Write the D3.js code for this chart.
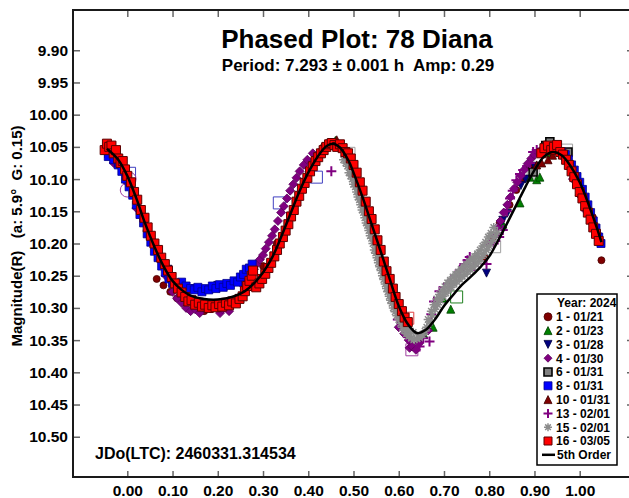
<!DOCTYPE html>
<html>
<head>
<meta charset="UTF-8">
<title>Phased Plot: 78 Diana</title>
<script src="https://cdnjs.cloudflare.com/ajax/libs/d3/7.8.5/d3.min.js"></script>
<style>
body { margin: 0; background: #fff; }
svg { display: block; font-family: "Liberation Sans", Arial, sans-serif; font-weight: bold; }
</style>
</head>
<body>
<script>
// ---- data: [phase, magnitude] ----
var seriesNames = ["1 - 01/21", "2 - 01/23", "3 - 01/28", "4 - 01/30", "6 - 01/31",
                   "8 - 01/31", "10 - 01/31", "13 - 02/01", "15 - 02/01", "16 - 03/05"];

var s1 = [[0.065,10.255],[0.08,10.265],[0.095,10.275],[0.11,10.285],[0.125,10.292],[0.16,10.298],
  [0.17,10.305],[0.185,10.302],[0.3,10.235],[0.33,10.2],[0.79,10.222],[0.808,10.19],[0.823,10.168],
  [0.845,10.14],[0.86,10.117],[0.875,10.1],[0.89,10.081],[1.029,10.159],[1.048,10.226]];

var s2 = [[0.46,10.04],[0.655,10.34],[0.676,10.33],[0.698,10.285],[0.715,10.302],[0.83,10.17],
  [0.868,10.137],[0.89,10.097],[0.905,10.101],[0.912,10.097],[0.935,10.06]];

var s3 = [[0.005,10.11],[0.035,10.16],[0.06,10.205],[0.09,10.24],[0.15,10.27],[0.2,10.265],
  [0.794,10.246],[0.83,10.164],[0.84,10.153],[0.87,10.11],[0.88,10.1],[0.9,10.08],[0.96,10.065],
  [1.02,10.16],[1.04,10.19]];

var s4 = [[-0.03,10.075],[0.0,10.105],[0.02,10.145],[0.05,10.19],[0.07,10.225],[0.085,10.25],
  [0.1,10.275],[0.11,10.285],[0.12,10.292],[0.13,10.3],[0.14,10.305],[0.15,10.302],[0.16,10.308],
  [0.17,10.3],[0.205,10.308],[0.21,10.302],[0.225,10.305],
  [0.232,10.262],[0.243,10.258],[0.252,10.262],[0.258,10.255],[0.266,10.25],[0.273,10.248],
  [0.28,10.24],[0.286,10.232],[0.293,10.225],[0.3,10.218],[0.306,10.208],[0.313,10.198],
  [0.32,10.188],[0.326,10.178],[0.333,10.165],[0.34,10.152],[0.346,10.142],[0.353,10.13],
  [0.36,10.118],[0.367,10.108],[0.374,10.098],[0.381,10.088],[0.39,10.078],[0.398,10.07],[0.41,10.06],
  [0.6,10.33],[0.612,10.34],[0.622,10.35],[0.624,10.362],[0.63,10.36],[0.638,10.365],[0.645,10.355],
  [0.65,10.345],[0.665,10.335],
  [0.8,10.2],[0.81,10.188],[0.818,10.175],[0.825,10.165],[0.832,10.152],[0.84,10.14],[0.847,10.128],
  [0.855,10.115],[0.862,10.105],[0.87,10.095],[0.878,10.085],[0.885,10.076],[0.893,10.068],
  [0.9,10.062],[0.908,10.058],[0.915,10.055],[0.922,10.052],[0.985,10.1],[1.0,10.125],[1.015,10.15]];

var s6 = [[-0.04,10.06],[-0.03,10.058],[-0.028,10.068],[-0.018,10.075],[0.897,10.089],
  [0.925,10.048],[0.934,10.042],[0.974,10.058]];

var s8 = [[-0.042,10.065],[-0.03,10.07],[-0.02,10.078],[-0.012,10.088],[-0.004,10.1],[0.004,10.112],
  [0.012,10.125],[0.02,10.14],[0.028,10.155],[0.036,10.168],[0.044,10.185],[0.052,10.198],
  [0.06,10.212],[0.068,10.222],[0.076,10.235],[0.084,10.245],[0.092,10.255],[0.1,10.262],
  [0.12,10.26],[0.13,10.266],[0.14,10.27],[0.148,10.272],[0.156,10.268],[0.165,10.275],[0.173,10.27],
  [0.18,10.272],[0.188,10.266],[0.196,10.27],[0.204,10.264],[0.212,10.268],[0.22,10.262],
  [0.228,10.265],[0.236,10.258],[0.244,10.26],[0.25,10.252],[0.257,10.248],[0.263,10.24],
  [0.27,10.238],[0.276,10.232],
  [0.96,10.058],[0.968,10.062],[0.975,10.07],[0.982,10.078],[0.988,10.086],[0.994,10.096],
  [1.0,10.105],[1.006,10.116],[1.012,10.128],[1.018,10.14],[1.024,10.152],[1.03,10.165],
  [1.036,10.176],[1.042,10.19],[1.047,10.2]];

var s10 = [[0.43,10.05],[0.44,10.045],[0.463,10.039],[0.905,10.078],[0.916,10.075],[0.93,10.07],
  [0.94,10.063]];

var s13 = [[0.451,10.088],[0.598,10.318],[0.62,10.345],[0.646,10.36],[0.654,10.347],[0.668,10.352],
  [0.672,10.31],[0.678,10.29],[0.69,10.274],[0.7,10.268],[0.712,10.262],[0.725,10.25],[0.735,10.241],
  [0.745,10.232],[0.752,10.226],[0.757,10.221],[0.766,10.235],[0.794,10.232],[0.81,10.2],
  [0.822,10.19],[0.83,10.179],[0.839,10.15],[0.846,10.13],[0.852,10.118],[0.86,10.102],
  [0.868,10.092],[0.875,10.086],[0.89,10.075],[0.897,10.058],[0.905,10.055]];

var s15 = [[0.478,10.07],[0.483,10.075],[0.487,10.08],[0.49,10.09],[0.494,10.095],[0.497,10.1],
  [0.5,10.108],[0.504,10.112],[0.507,10.12],[0.51,10.128],[0.513,10.132],[0.516,10.14],[0.519,10.148],
  [0.522,10.152],[0.525,10.16],[0.528,10.168],[0.531,10.172],[0.534,10.18],[0.537,10.188],
  [0.54,10.192],[0.543,10.2],[0.546,10.21],[0.549,10.215],[0.552,10.222],[0.555,10.23],[0.558,10.236],
  [0.561,10.242],[0.564,10.25],[0.567,10.256],[0.57,10.263],[0.573,10.27],[0.576,10.275],
  [0.579,10.282],[0.582,10.288],[0.585,10.293],[0.588,10.3],[0.592,10.306],[0.596,10.312],
  [0.6,10.318],[0.604,10.324],[0.608,10.33],[0.612,10.335],[0.617,10.34],[0.622,10.344],
  [0.628,10.347],[0.634,10.349],[0.64,10.348],[0.646,10.346],[0.652,10.342],[0.658,10.336],
  [0.485,10.065],[0.492,10.082],[0.498,10.092],[0.505,10.102],[0.512,10.118],[0.518,10.13],
  [0.524,10.145],[0.53,10.158],[0.536,10.17],[0.542,10.182],[0.548,10.198],[0.554,10.21],
  [0.56,10.222],[0.566,10.238],[0.572,10.25],[0.578,10.262],[0.584,10.275],[0.59,10.285],
  [0.596,10.298],[0.602,10.308],[0.608,10.318],[0.614,10.326],[0.62,10.332],[0.626,10.336],
  [0.632,10.338],
  [0.662,10.33],[0.668,10.322],[0.674,10.312],[0.68,10.302],[0.686,10.295],[0.692,10.288],
  [0.698,10.282],[0.704,10.277],[0.71,10.272],[0.716,10.268],[0.722,10.263],[0.728,10.259],
  [0.734,10.255],[0.74,10.251],[0.746,10.248],[0.752,10.244],[0.758,10.24],[0.764,10.236],
  [0.77,10.232],[0.776,10.228],[0.782,10.223],[0.788,10.217],[0.794,10.21],[0.8,10.204],
  [0.806,10.197],[0.812,10.19],[0.818,10.183],
  [0.665,10.318],[0.672,10.305],[0.678,10.295],[0.684,10.286],[0.69,10.279],[0.696,10.273],
  [0.702,10.267],[0.708,10.261],[0.714,10.257],[0.72,10.252],[0.726,10.248],[0.732,10.244],
  [0.738,10.24],[0.744,10.236],[0.75,10.232],[0.756,10.228],[0.762,10.224],[0.768,10.22],
  [0.774,10.216],[0.78,10.21],[0.786,10.204],[0.792,10.198],[0.798,10.19],[0.804,10.184],[0.81,10.175]];

var s16 = [[-0.05,10.055],[-0.045,10.045],[-0.04,10.05],[-0.035,10.048],[-0.03,10.06],[-0.025,10.055],
  [-0.02,10.068],[-0.015,10.075],[-0.01,10.072],
  [-0.005,10.085],[0.0,10.095],[0.008,10.105],[0.015,10.12],[0.022,10.132],[0.03,10.148],
  [0.038,10.16],[0.045,10.175],[0.052,10.188],[0.06,10.2],[0.068,10.21],[0.075,10.222],
  [0.083,10.232],[0.09,10.242],[0.098,10.252],[0.105,10.262],[0.112,10.27],[0.12,10.276],
  [0.128,10.283],[0.135,10.29],[0.142,10.288],[0.15,10.295],[0.158,10.292],[0.165,10.298],
  [0.172,10.295],[0.18,10.3],[0.188,10.296],[0.195,10.299],[0.203,10.294],[0.21,10.298],
  [0.218,10.292],[0.225,10.296],[0.232,10.29],[0.24,10.293],[0.248,10.286],[0.255,10.282],
  [0.26,10.274],[0.265,10.266],[0.27,10.258],[0.275,10.25],[0.278,10.242],
  [0.285,10.268],[0.292,10.262],[0.298,10.255],[0.305,10.247],[0.312,10.238],[0.318,10.23],
  [0.325,10.22],[0.331,10.21],[0.337,10.2],[0.344,10.19],[0.35,10.18],[0.356,10.17],[0.362,10.158],
  [0.368,10.148],[0.374,10.135],[0.38,10.126],[0.386,10.115],[0.392,10.106],[0.398,10.098],
  [0.404,10.088],[0.41,10.08],[0.416,10.072],[0.422,10.066],[0.428,10.06],[0.434,10.055],
  [0.44,10.05],[0.446,10.046],[0.452,10.044],[0.458,10.047],[0.464,10.05],[0.47,10.046],
  [0.476,10.052],[0.482,10.058],
  [0.488,10.06],[0.494,10.068],[0.5,10.078],[0.507,10.09],[0.514,10.105],[0.52,10.118],
  [0.527,10.135],[0.534,10.15],[0.54,10.162],[0.547,10.178],[0.553,10.195],[0.56,10.21],
  [0.567,10.228],[0.573,10.243],[0.58,10.255],[0.587,10.27],[0.593,10.283],[0.6,10.294],
  [0.607,10.305],[0.613,10.315],[0.62,10.322],
  [0.915,10.06],[0.922,10.052],[0.93,10.048],[0.937,10.055],[0.943,10.05],[0.95,10.047],
  [0.957,10.058],[0.963,10.062],[0.97,10.07],[0.976,10.078],[0.982,10.088],[0.988,10.097],
  [0.994,10.108],[1.0,10.12],[1.006,10.13],[1.012,10.142],[1.018,10.152],[1.024,10.163],
  [1.03,10.175],[1.036,10.185],[1.042,10.196]];

// hollow (flagged) points, not in the legend
var openPoints = [[0.629,10.365],[0.728,10.283],[0.812,10.205],[0.897,10.089],[0.971,10.055],
  [0.62,10.316],[0.49,10.06],[0.418,10.097],[0.336,10.137],[0.005,10.091]];
var openColors = ["#a040a0", "#208020", "#a0a0a0", "#909090", "#a0a0a0",
  "#e04040", "#a0a0a0", "#4040c0", "#4040c0", "#4040c0"];
var openRings = [[0.0,10.117],[0.004,10.1]];

// 5th order fit
var fitCurve = [[-0.045,10.053],[-0.02,10.07],[0.0,10.095],[0.02,10.13],[0.04,10.17],[0.06,10.205],
  [0.08,10.235],[0.10,10.258],[0.12,10.272],[0.14,10.281],[0.16,10.285],[0.18,10.287],[0.20,10.287],
  [0.22,10.285],[0.24,10.281],[0.26,10.274],[0.28,10.262],[0.30,10.245],[0.32,10.222],[0.34,10.19],
  [0.36,10.155],[0.38,10.12],[0.40,10.09],[0.42,10.066],[0.44,10.049],[0.455,10.045],[0.47,10.051],
  [0.49,10.073],[0.50,10.09],[0.52,10.128],[0.54,10.17],[0.56,10.212],[0.58,10.255],[0.60,10.297],
  [0.62,10.325],[0.64,10.339],[0.66,10.334],[0.68,10.318],[0.70,10.297],[0.72,10.28],[0.74,10.264],
  [0.76,10.251],[0.78,10.237],[0.80,10.22],[0.82,10.195],[0.84,10.168],[0.86,10.14],[0.88,10.112],
  [0.90,10.086],[0.92,10.066],[0.94,10.058],[0.96,10.063],[0.98,10.08],[1.00,10.105],[1.02,10.14],
  [1.04,10.18],[1.048,10.198]];

var xTicks = [0.0, 0.1, 0.2, 0.3, 0.4, 0.5, 0.6, 0.7, 0.8, 0.9, 1.0];
var yTicks = [9.90, 9.95, 10.00, 10.05, 10.10, 10.15, 10.20, 10.25, 10.30, 10.35, 10.40, 10.45, 10.50];

var allSeries = [s1, s2, s3, s4, s6, s8, s10, s13, s15, s16];

// marker look for each series
var styles = [
  {shape: "circle",  size: 7,  fill: "#800000", stroke: "#4a0000", sw: 0.8},
  {shape: "triUp",   size: 8,  fill: "#008000", stroke: "#004000", sw: 0.8},
  {shape: "triDown", size: 8,  fill: "#000080", stroke: "#000040", sw: 0.8},
  {shape: "diamond", size: 9,  fill: "#800080", stroke: "#5a005a", sw: 0.8},
  {shape: "square",  size: 8,  fill: "#808080", stroke: "#000000", sw: 1.6},
  {shape: "square",  size: 8,  fill: "#0000ff", stroke: "#00008b", sw: 0.8},
  {shape: "triUp",   size: 8,  fill: "#800000", stroke: "#400000", sw: 0.8},
  {shape: "plus",    size: 10, fill: "none",    stroke: "#800080", sw: 2},
  {shape: "star",    size: 9,  fill: "none",    stroke: "#8c8c8c", sw: 1.5},
  {shape: "square",  size: 9,  fill: "#ff0000", stroke: "#5a0000", sw: 1}
];

function markerPath(shape, s){
    var h = s / 2;
    if(shape == "circle"){
        return d3.symbol(d3.symbolCircle, Math.PI * h * h)();
    }else if(shape == "square"){
        return "M" + (-h) + "," + (-h) + "h" + s + "v" + s + "h" + (-s) + "Z";
    }else if(shape == "diamond"){
        return "M0," + (-h) + "L" + h + ",0L0," + h + "L" + (-h) + ",0Z";
    }else if(shape == "triUp"){
        return "M0," + (-h) + "L" + h + "," + h + "L" + (-h) + "," + h + "Z";
    }else if(shape == "triDown"){
        return "M0," + h + "L" + h + "," + (-h) + "L" + (-h) + "," + (-h) + "Z";
    }else if(shape == "plus"){
        return "M" + (-h) + ",0H" + h + "M0," + (-h) + "V" + h;
    }else{
        var d = h * 0.707;
        return "M" + (-h) + ",0H" + h + "M0," + (-h) + "V" + h +
               "M" + (-d) + "," + (-d) + "L" + d + "," + d + "M" + (-d) + "," + d + "L" + d + "," + (-d);
    }
}

var W = 629, H = 498;
var plotLeft = 73, plotRight = 634, plotTop = 10, plotBottom = 477;

var svg = d3.select("body").append("svg")
    .attr("width", W)
    .attr("height", H);

var x = d3.scaleLinear().domain([-0.12, 1.12]).range([plotLeft, plotRight]);
var y = d3.scaleLinear().domain([9.8375, 10.5625]).range([plotTop, plotBottom]);

// axes: ticks point inwards on all four sides
var gl = svg.append("g").attr("transform", "translate(" + plotLeft + ",0)")
    .call(d3.axisLeft(y).tickValues(yTicks).tickFormat(d3.format(".2f"))
          .tickSizeInner(-7).tickSizeOuter(0).tickPadding(5));
var gb = svg.append("g").attr("transform", "translate(0," + plotBottom + ")")
    .call(d3.axisBottom(x).tickValues(xTicks).tickFormat(d3.format(".2f"))
          .tickSizeInner(-6).tickSizeOuter(0).tickPadding(8));
var gt = svg.append("g").attr("transform", "translate(0," + plotTop + ")")
    .call(d3.axisTop(x).tickValues(xTicks).tickFormat("")
          .tickSizeInner(-7).tickSizeOuter(0));
var gr = svg.append("g").attr("transform", "translate(" + plotRight + ",0)")
    .call(d3.axisRight(y).tickValues(yTicks).tickFormat("")
          .tickSizeInner(-7).tickSizeOuter(0));

[gl, gb, gt, gr].forEach(function(g){
    g.select(".domain").remove();
    g.selectAll(".tick line").attr("stroke", "#666").attr("stroke-width", 1.5);
    g.selectAll(".tick text").attr("fill", "#000")
        .style("font-family", "'Liberation Sans', Arial, sans-serif")
        .style("font-weight", "bold").style("font-size", "15.5px");
});

// hollow markers sit under the filled ones
svg.append("g").selectAll("path")
    .data(openPoints)
    .enter()
    .append("path")
    .attr("d", markerPath("square", 12))
    .attr("transform", function(d){ return "translate(" + x(d[0]) + "," + y(d[1]) + ")"; })
    .attr("fill", "none")
    .attr("stroke", function(d, i){ return openColors[i]; })
    .attr("stroke-width", 1);
svg.append("g").selectAll("circle")
    .data(openRings)
    .enter()
    .append("circle")
    .attr("cx", function(d){ return x(d[0]); })
    .attr("cy", function(d){ return y(d[1]); })
    .attr("r", 7)
    .attr("fill", "none")
    .attr("stroke", "#a040a0")
    .attr("stroke-width", 1);

// points, one group per series in legend order
allSeries.forEach(function(data, i){
    var st = styles[i];
    var p = markerPath(st.shape, st.size);
    svg.append("g").selectAll("path")
        .data(data)
        .enter()
        .append("path")
        .attr("d", p)
        .attr("transform", function(d){ return "translate(" + x(d[0]) + "," + y(d[1]) + ")"; })
        .attr("fill", st.fill)
        .attr("stroke", st.stroke)
        .attr("stroke-width", st.sw);
});

// fit line
var line = d3.line()
    .x(function(d){ return x(d[0]); })
    .y(function(d){ return y(d[1]); })
    .curve(d3.curveCatmullRom);
svg.append("path")
    .datum(fitCurve)
    .attr("d", line)
    .attr("fill", "none")
    .attr("stroke", "#000")
    .attr("stroke-width", 2.5);

// frame
svg.append("rect")
    .attr("x", plotLeft).attr("y", plotTop)
    .attr("width", plotRight - plotLeft).attr("height", plotBottom - plotTop)
    .attr("fill", "none").attr("stroke", "#1a1a1a").attr("stroke-width", 2);

// titles
svg.append("text").attr("x", 357).attr("y", 48).attr("text-anchor", "middle")
    .style("font-size", "26px").text("Phased Plot: 78 Diana");
svg.append("text").attr("x", 358).attr("y", 71).attr("text-anchor", "middle")
    .style("font-size", "17px").style("white-space", "pre")
    .text("Period: 7.293 \u00b1 0.001 h  Amp: 0.29");
svg.append("text")
    .attr("transform", "translate(22,236) rotate(-90)")
    .attr("text-anchor", "middle")
    .style("font-size", "15px")
    .style("white-space", "pre")
    .text("Magnitude(R)   (a: 5.9\u00b0  G: 0.15)");
svg.append("text").attr("x", 95).attr("y", 459)
    .style("font-size", "16px").text("JDo(LTC): 2460331.314534");

// legend
var legX = 537, legY = 294, legW = 80, legH = 171;
var lg = svg.append("g");
lg.append("rect").attr("x", legX).attr("y", legY).attr("width", legW).attr("height", legH)
    .attr("fill", "#fff").attr("stroke", "#000").attr("stroke-width", 1.5);
lg.append("text").attr("x", 557).attr("y", 307).style("font-size", "12px").text("Year: 2024");
seriesNames.forEach(function(name, i){
    var cy = 303 + 13.8 * (i + 1);
    var st = styles[i];
    lg.append("path")
        .attr("d", markerPath(st.shape, st.shape == "plus" ? 9 : 8))
        .attr("transform", "translate(548," + cy + ")")
        .attr("fill", st.fill).attr("stroke", st.stroke)
        .attr("stroke-width", st.sw);
    lg.append("text").attr("x", 556).attr("y", cy + 4.3)
        .style("font-size", "12px").text(name);
});
var cyFit = 303 + 13.8 * 11;
lg.append("line").attr("x1", 542).attr("x2", 555).attr("y1", cyFit).attr("y2", cyFit)
    .attr("stroke", "#000").attr("stroke-width", 2.5);
lg.append("text").attr("x", 557).attr("y", cyFit + 4.3)
    .style("font-size", "12px").text("5th Order");
</script>
</body>
</html>
